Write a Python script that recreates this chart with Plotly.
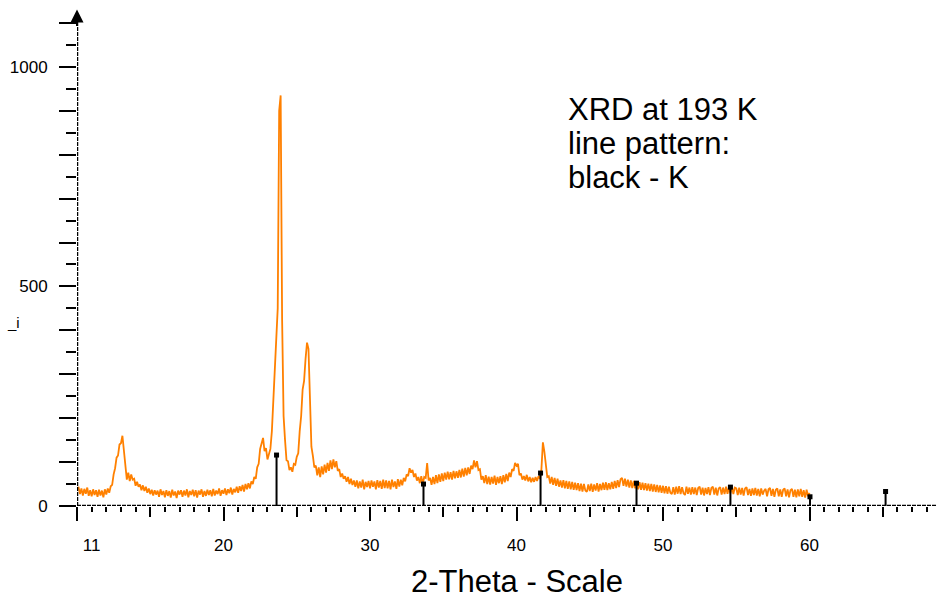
import numpy as np
import plotly.graph_objects as go

# ---------------- data ----------------
two_theta = np.round(np.arange(101, 601) / 10.0, 1)  # 10.1 ... 60.0, step 0.1

intensity = [
    # 10.1-10.9
    44, 27, 40, 24, 39, 28, 42, 23, 36,
    # 11
    22, 38, 25, 36, 21, 37, 24, 35, 20, 38,
    # 12
    26, 40, 30, 45, 48, 72, 86, 110, 115, 140,
    # 13
    143, 160, 125, 84, 60, 76, 57, 72, 60, 62,
    # 14
    46, 55, 44, 49, 36, 47, 34, 44, 30, 40,
    # 15
    27, 37, 24, 36, 26, 35, 21, 38, 25, 34,
    # 16
    20, 36, 23, 34, 19, 37, 24, 33, 18, 35,
    # 17
    26, 36, 21, 35, 24, 38, 20, 34, 25, 37,
    # 18
    22, 36, 19, 35, 26, 38, 21, 34, 23, 37,
    # 19
    25, 36, 22, 39, 24, 35, 27, 40, 23, 36,
    # 20
    28, 40, 25, 38, 29, 42, 26, 39, 31, 44,
    # 21
    30, 45, 34, 48, 33, 50, 38, 52, 40, 56,
    # 22
    50, 66, 62, 88, 96, 130, 140, 155, 125, 132,
    # 23
    106, 122, 130, 170, 235, 320, 375, 450, 900, 935,
    # 24
    425, 205, 150, 104, 102, 82, 88, 78, 96, 94,
    # 25
    112, 120, 170, 205, 265, 285, 335, 372, 358, 220,
    # 26
    135, 114, 88, 92, 70, 88, 66, 90, 72, 94,
    # 27
    76, 98, 80, 104, 84, 106, 88, 102, 80, 84,
    # 28
    66, 74, 62, 68, 55, 66, 50, 62, 48, 58,
    # 29
    44, 58, 40, 56, 42, 60, 38, 55, 43, 57,
    # 30
    40, 58, 44, 56, 38, 59, 42, 57, 39, 60,
    # 31
    41, 58, 40, 57, 38, 60, 43, 56, 39, 61,
    # 32
    44, 60, 47, 64, 56, 72, 68, 86, 76, 82,
    # 33
    66, 74, 58, 66, 52, 68, 50, 66, 64, 98,
    # 34
    58, 64, 48, 66, 50, 70, 52, 72, 55, 74,
    # 35
    57, 76, 60, 78, 61, 77, 60, 80, 63, 79,
    # 36
    64, 82, 65, 85, 67, 87, 70, 88, 73, 92,
    # 37
    84, 104, 88, 102, 82, 84, 60, 68, 52, 70,
    # 38
    50, 67, 49, 66, 51, 69, 48, 66, 52, 68,
    # 39
    50, 70, 54, 73, 57, 76, 66, 84, 80, 98,
    # 40
    92, 96, 70, 74, 60, 68, 58, 71, 56, 66,
    # 41
    54, 64, 55, 66, 57, 68, 62, 84, 145, 124,
    # 42
    96, 66, 68, 51, 66, 48, 64, 46, 62, 44,
    # 43
    58, 42, 59, 40, 57, 39, 56, 38, 55, 37,
    # 44
    53, 36, 52, 34, 51, 33, 50, 35, 32, 49,
    # 45
    34, 51, 32, 49, 35, 52, 33, 50, 36, 53,
    # 46
    37, 54, 36, 52, 38, 55, 39, 57, 41, 59,
    # 47
    43, 61, 64, 46, 62, 44, 60, 42, 58, 41,
    # 48
    57, 40, 56, 38, 54, 37, 53, 36, 52, 35,
    # 49
    51, 34, 50, 33, 49, 32, 48, 31, 47, 30,
    # 50
    46, 29, 45, 28, 44, 30, 27, 43, 26, 44,
    # 51
    28, 45, 27, 43, 29, 25, 44, 28, 42, 26,
    # 52
    43, 27, 42, 25, 41, 44, 26, 42, 24, 41,
    # 53
    27, 43, 25, 41, 44, 26, 42, 24, 40, 43,
    # 54
    26, 42, 27, 44, 28, 43, 29, 45, 27, 42,
    # 55
    40, 25, 42, 26, 41, 24, 40, 43, 25, 39,
    # 56
    23, 40, 25, 41, 24, 39, 22, 40, 26, 35,
    # 57
    39, 22, 38, 41, 23, 39, 21, 37, 40, 22,
    # 58
    38, 21, 37, 40, 22, 38, 20, 36, 39, 21,
    # 59
    37, 20, 38, 22, 39, 21, 36, 19, 37, 22,
    # 60.0
    30,
]
assert len(intensity) == len(two_theta)

# reference line pattern (black sticks)
stick_pos = [23.62, 33.65, 41.64, 48.19, 54.60, 60.03, 65.19]
stick_int = [116, 50, 75, 52, 43, 21, 33]

x_tick_vals = [11, 20, 30, 40, 50, 60]
x_tick_text = ["11", "20", "30", "40", "50", "60"]
y_tick_vals = list(range(0, 1101, 100))
y_tick_text = ["0", "", "", "", "", "500", "", "", "", "", "1000", ""]

note_lines = ["XRD at 193 K", "line pattern:", "black - K"]
x_title = "2-Theta - Scale"
y_title = "_i"

# ---------------- figure ----------------
FONT = "Liberation Sans, Arial, sans-serif"
fig = go.Figure()

fig.add_trace(go.Scatter(
    x=two_theta, y=intensity, mode="lines",
    line=dict(color="#ff8000", width=1.8),
    hoverinfo="skip", showlegend=False,
))

sx, sy = [], []
for p, h in zip(stick_pos, stick_int):
    sx += [p, p, None]
    sy += [0, h, None]
fig.add_trace(go.Scatter(
    x=sx, y=sy, mode="lines", line=dict(color="black", width=2),
    hoverinfo="skip", showlegend=False,
))
fig.add_trace(go.Scatter(
    x=stick_pos, y=stick_int, mode="markers",
    marker=dict(symbol="square", size=5, color="black"),
    hoverinfo="skip", showlegend=False,
))
# helper traces so the tick-only overlay axes are drawn
for xa in ("x2", "x3"):
    fig.add_trace(go.Scatter(x=[stick_pos[0]], y=[0], mode="none", xaxis=xa,
                             hoverinfo="skip", showlegend=False))

XR = [10, 68.7]
YR = [0, 1125]
fig.update_layout(
    width=937, height=598,
    margin=dict(l=77, r=0, t=12, b=92),
    paper_bgcolor="white", plot_bgcolor="white",
    font=dict(family=FONT, color="black"),
    xaxis=dict(
        range=XR, showgrid=False, zeroline=False, showline=False,
        tickmode="array", tickvals=x_tick_vals, ticktext=x_tick_text,
        ticks="outside", ticklen=24, tickcolor="rgba(0,0,0,0)",
        tickfont=dict(size=17, family=FONT),
    ),
    xaxis2=dict(
        range=XR, overlaying="x", anchor="y", side="bottom",
        showgrid=False, zeroline=False, showline=False, showticklabels=False,
        tickmode="linear", tick0=0, dtick=10,
        ticks="outside", ticklen=14, tickwidth=2, tickcolor="black",
        minor=dict(tickmode="linear", tick0=0, dtick=1, ticks="outside",
                   ticklen=5, tickwidth=2, tickcolor="black"),
    ),
    xaxis3=dict(
        range=XR, overlaying="x", anchor="y", side="bottom",
        showgrid=False, zeroline=False, showline=False, showticklabels=False,
        tickmode="linear", tick0=5, dtick=10,
        ticks="outside", ticklen=10, tickwidth=2, tickcolor="black",
    ),
    yaxis=dict(
        range=YR, showgrid=False, zeroline=False, showline=False,
        tickmode="array", tickvals=y_tick_vals, ticktext=y_tick_text,
        ticks="outside", ticklen=17, tickwidth=2, tickcolor="black",
        ticklabelstandoff=8,
        minor=dict(tickmode="linear", tick0=0, dtick=50, ticks="outside",
                   ticklen=10, tickwidth=2, tickcolor="black"),
        tickfont=dict(size=17, family=FONT),
    ),
)

# dotted axis lines
fig.add_shape(type="line", xref="paper", yref="y", x0=0, x1=1, y0=0, y1=0,
              line=dict(color="black", width=2.5, dash="4px,1px"))
fig.add_shape(type="line", xref="x", yref="paper", x0=XR[0], x1=XR[0], y0=0, y1=0.985,
              line=dict(color="black", width=2.5, dash="4px,1px"))
# arrow head on the y axis
fig.add_annotation(x=XR[0], y=1.005, xref="x", yref="paper", text="",
                   showarrow=True, arrowhead=2, arrowsize=1.3, arrowwidth=2,
                   arrowcolor="black", ax=0, ay=18)

# text block
for line, py in zip(note_lines, [109, 143, 177]):
    fig.add_annotation(x=(566 - 77) / 860, y=(506 - py) / 494, xref="paper", yref="paper",
                       text=line, showarrow=False, xanchor="left", yanchor="middle",
                       font=dict(size=31, family=FONT, color="black"))

fig.add_annotation(x=(517 - 77) / 860, y=(506 - 581) / 494, xref="paper", yref="paper",
                   text=x_title, showarrow=False, xanchor="center", yanchor="middle",
                   font=dict(size=31, family=FONT, color="black"))
fig.add_annotation(x=(13 - 77) / 860, y=(506 - 322) / 494, xref="paper", yref="paper",
                   text=y_title, showarrow=False, xanchor="center", yanchor="middle",
                   font=dict(size=15, family=FONT, color="black"))

fig.write_html("out.html")
